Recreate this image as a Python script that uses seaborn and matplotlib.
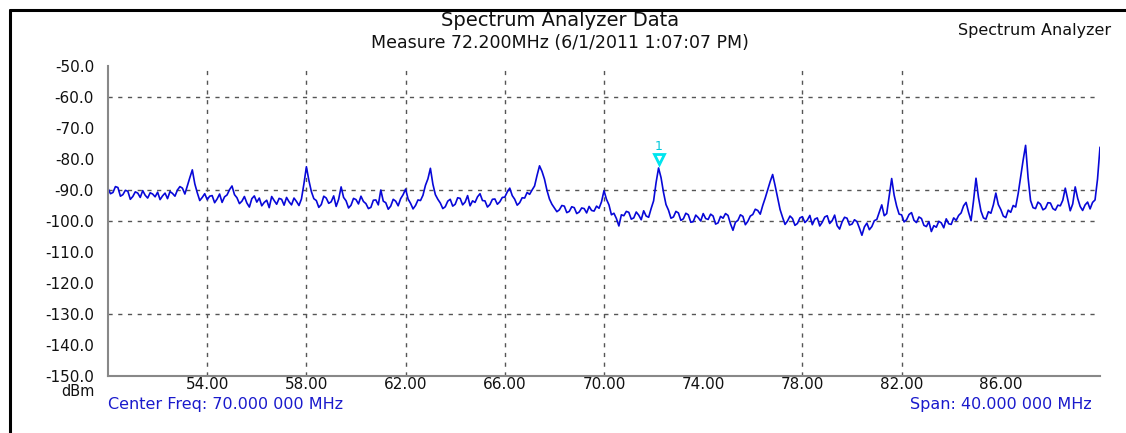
import numpy as np
import pandas as pd
import matplotlib
matplotlib.use("Agg")
import matplotlib.pyplot as plt
from matplotlib.lines import Line2D
import seaborn as sns

# Sweep settings (MHz)
center_mhz = 70.0
span_mhz = 40.0
start_mhz = center_mhz - span_mhz / 2
step_mhz = 0.1

# Measured trace level in dBm, one reading per 0.1 MHz step from start to stop
level_dbm = [
    -89.5, -91.2, -90.8, -88.9, -89.2, -92.0, -91.5, -90.1, -90.4, -93.0,
    -92.1, -90.6, -91.0, -92.4, -90.2, -91.7, -92.6, -90.9, -91.3, -92.2,
    -90.7, -93.1, -91.9, -91.0, -92.8, -90.5, -91.1, -92.0, -90.0, -88.9,
    -89.4, -91.3, -88.6, -86.0, -83.5, -88.0, -90.9, -93.4, -92.4, -91.2,
    -93.1, -92.0, -91.8, -94.1, -92.9, -91.3, -94.0, -92.2, -91.6, -89.9,
    -88.7, -91.5, -92.5, -94.4, -93.6, -92.1, -94.2, -95.5, -92.8, -91.9,
    -93.9, -92.6, -95.1, -94.0, -93.3, -95.7, -92.1, -93.4, -94.6, -92.7,
    -93.0, -94.9, -92.4, -93.8, -94.8, -92.6, -93.7, -95.0, -92.9, -88.0,
    -82.5, -86.9, -90.5, -92.8, -93.4, -95.6, -94.7, -92.0, -92.6, -94.3,
    -93.8, -91.9, -95.3, -93.0, -89.0, -92.4, -93.5, -95.8, -94.9, -92.7,
    -93.1, -94.5, -92.0, -93.7, -94.4, -96.0, -95.6, -93.3, -93.2, -94.8,
    -90.0, -93.6, -94.1, -96.2, -95.2, -93.0, -93.6, -95.1, -92.8, -91.5,
    -89.7, -92.9, -94.3, -96.1, -95.0, -93.2, -93.4, -91.7, -88.5, -86.4,
    -83.0, -88.1, -91.5, -93.0, -94.2, -96.0, -95.4, -93.6, -93.0, -95.2,
    -94.6, -92.5, -92.7, -94.8, -93.9, -91.8, -95.1, -93.5, -94.0, -92.2,
    -91.2, -93.4, -93.5, -95.5, -94.7, -93.0, -92.9, -94.6, -93.8, -92.4,
    -92.3, -90.6, -89.4, -91.8, -93.0, -94.9, -94.1, -92.5, -92.6, -90.8,
    -91.4, -90.0, -88.7, -85.3, -82.2, -84.0, -86.5, -90.1, -92.9, -94.6,
    -95.8, -97.0, -96.4, -95.0, -95.2, -97.3, -96.9, -95.4, -95.7, -97.6,
    -97.1, -95.8, -96.0, -97.4, -95.3, -96.6, -96.8, -95.2, -95.9, -93.8,
    -90.2, -93.0, -94.8, -98.0, -97.5, -99.2, -101.6, -98.0, -98.3, -96.9,
    -97.2, -99.4, -99.0, -97.1, -98.1, -99.6, -96.7, -98.4, -98.8, -96.0,
    -93.5, -87.6, -82.9, -86.0, -90.8, -94.7, -96.5, -99.1, -98.7, -96.9,
    -97.4, -99.8, -99.3, -97.5, -98.0, -100.4, -100.2, -98.1, -98.9, -100.0,
    -97.6, -99.2, -99.5, -97.8, -98.4, -101.0, -100.6, -98.5, -99.1, -97.6,
    -98.2, -100.9, -103.0, -100.4, -99.8, -98.0, -98.5, -101.2, -100.1, -98.4,
    -97.9, -96.2, -96.6, -97.8, -95.0, -92.6, -90.0, -87.3, -85.0, -88.6,
    -92.5, -96.3, -98.8, -101.1, -100.0, -98.4, -99.2, -101.4, -100.8, -99.0,
    -98.6, -100.5, -99.7, -98.2, -101.2, -99.4, -99.0, -101.6, -100.4, -98.7,
    -98.3, -100.8, -99.9, -98.1, -101.5, -102.6, -100.3, -98.8, -99.1, -101.3,
    -101.0, -99.6, -100.2, -102.3, -104.6, -101.9, -100.7, -102.8, -101.8, -99.9,
    -99.5, -97.1, -94.8, -98.3, -97.6, -92.0, -86.3, -91.7, -95.2, -97.8,
    -98.0, -100.3, -99.6, -97.9, -97.3, -99.8, -100.5, -98.7, -99.2, -101.4,
    -101.8, -100.2, -103.4, -101.5, -102.0, -100.1, -100.6, -102.2, -99.3, -100.9,
    -101.1, -99.0, -99.8, -98.2, -97.4, -95.1, -94.0, -97.2, -99.9, -93.5,
    -86.2, -92.4, -96.8, -99.0, -99.4, -97.0, -97.5, -94.8, -91.0, -94.7,
    -96.3, -98.4, -98.9, -96.5, -97.2, -95.0, -95.5, -91.2, -85.7, -80.4,
    -75.6, -86.0, -93.4, -95.7, -96.0, -93.9, -94.6, -96.4, -95.9, -94.1,
    -94.2, -96.0, -96.5, -94.9, -95.1, -93.3, -89.4, -93.0, -96.7, -94.5,
    -89.0, -92.7, -95.3, -96.6, -94.8, -93.9, -96.1, -94.0, -93.2, -86.5,
    -76.2,
]
freq_mhz = [round(start_mhz + step_mhz * i, 3) for i in range(len(level_dbm))]

# Marker 1 sits on the strongest carrier in the middle of the sweep
marker_freq_mhz = 72.2
marker_level_dbm = -82.9

y_ticks = [-50, -60, -70, -80, -90, -100, -110, -120, -130, -140, -150]
x_ticks = [54, 58, 62, 66, 70, 74, 78, 82, 86]
grid_y = [-60, -90, -100, -130]
grid_x = [54, 58, 62, 66, 70, 78, 82]

title_1 = "Spectrum Analyzer Data"
title_2 = "Measure 72.200MHz (6/1/2011 1:07:07 PM)"
corner_label = "Spectrum Analyzer"
center_text = "Center Freq: 70.000 000 MHz"
span_text = "Span: 40.000 000 MHz"

sns.set_style("white")
plt.rcParams["font.family"] = ["DejaVu Sans"]

W, H = 1126, 433
fig = plt.figure(figsize=(W / 100, H / 100), dpi=100)
ax = fig.add_axes([108 / W, 1 - 376 / H, (1100 - 108) / W, (376 - 66) / H])

df = pd.DataFrame({"freq": freq_mhz, "level": level_dbm})
sns.lineplot(data=df, x="freq", y="level", ax=ax, color="#0808d8", linewidth=1.2)

ax.set_xlim(start_mhz, start_mhz + span_mhz)
ax.set_ylim(-150, -50)

for gy in grid_y:
    ax.axhline(gy, color="#555555", linestyle=(0, (3, 4)), linewidth=1.0, zorder=0)
for gx in grid_x:
    ax.axvline(gx, color="#555555", linestyle=(0, (3, 4)), linewidth=1.0, zorder=0)

# Marker 1
ax.plot([marker_freq_mhz], [marker_level_dbm + 3.0], marker="v", markersize=7,
        markerfacecolor="white", markeredgecolor="#00e5ee", markeredgewidth=2.0)
ax.text(marker_freq_mhz, marker_level_dbm + 4.8, "1", color="#00c8dc",
        ha="center", va="bottom", fontsize=9)

ax.set_yticks(y_ticks)
ax.set_yticklabels([f"{v:.1f}" for v in y_ticks], fontsize=11, color="#111111")
ax.set_xticks(x_ticks)
ax.set_xticklabels([f"{v:.2f}" for v in x_ticks], fontsize=11, color="#111111")
ax.tick_params(axis="x", direction="in", length=4, width=1, color="#777777", pad=1)
ax.tick_params(axis="y", length=0, pad=10)
ax.set_xlabel("")
ax.set_ylabel("")

for side in ("top", "right"):
    ax.spines[side].set_visible(False)
for side in ("left", "bottom"):
    ax.spines[side].set_color("#888888")
    ax.spines[side].set_linewidth(1.5)

# Unit label under the level axis
fig.text(95 / W, 1 - 384 / H, "dBm", ha="right", va="top", fontsize=10.5, color="#111111")

# Titles and captions
fig.text(560 / W, 1 - 20 / H, title_1, ha="center", va="center", fontsize=14, color="#111111")
fig.text(560 / W, 1 - 43 / H, title_2, ha="center", va="center", fontsize=12.5, color="#111111")
fig.text(958 / W, 1 - 31 / H, corner_label, ha="left", va="center", fontsize=11.5, color="#111111")
fig.text(108 / W, 1 - 404 / H, center_text, ha="left", va="center", fontsize=11.5, color="#1a1acc")
fig.text(1092 / W, 1 - 404 / H, span_text, ha="right", va="center", fontsize=11.5, color="#1a1acc")

# Outer frame
fig.add_artist(Line2D([10 / W, 1], [1 - 10 / H, 1 - 10 / H], color="black", linewidth=2.2))
fig.add_artist(Line2D([10 / W, 10 / W], [0, 1 - 10 / H], color="black", linewidth=2.2))

fig.savefig("out.png", dpi=100)
